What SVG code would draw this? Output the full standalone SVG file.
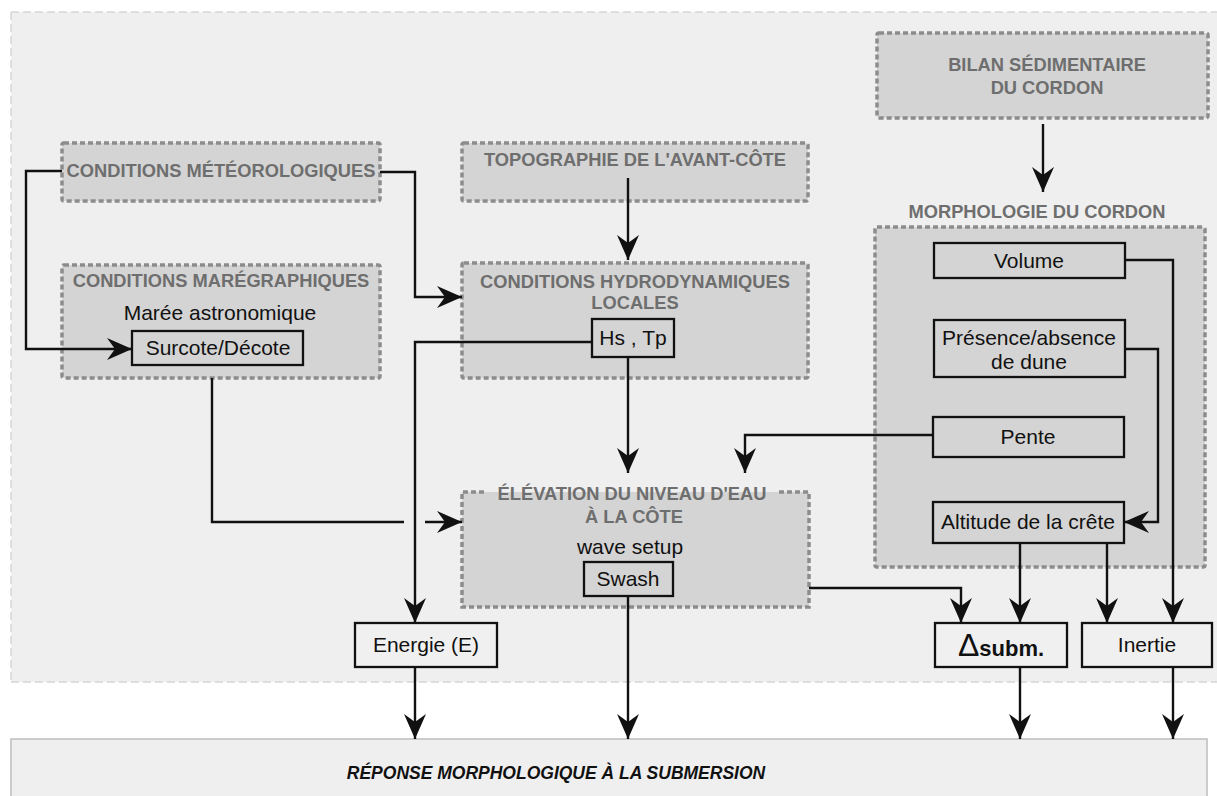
<svg xmlns="http://www.w3.org/2000/svg" width="1217" height="796" viewBox="0 0 1217 796">
<style>
.grp{fill:#d4d4d4;stroke:#8c8c8c;stroke-width:3.5;stroke-dasharray:5 3}
.brd{fill:none;stroke:#8c8c8c;stroke-width:3.5;stroke-dasharray:5 3}
.ttl{font-family:"Liberation Sans",Arial,sans-serif;font-weight:bold;font-size:18.3px;fill:#6e6e6e;text-anchor:middle}
.lbl{font-family:"Liberation Sans",Arial,sans-serif;font-size:21px;fill:#111;text-anchor:middle}
.ibox{fill:#d4d4d4;stroke:#111;stroke-width:2.3}
.obox{fill:#f0f0f0;stroke:#111;stroke-width:2.3}
.cn{fill:none;stroke:#111;stroke-width:2.4}
</style>
<defs>
<marker id="ah" markerWidth="26" markerHeight="22" refX="25" refY="11" orient="auto" markerUnits="userSpaceOnUse" viewBox="0 0 26 22">
<path d="M25,11 L0,0 L8,11 L0,22 Z" fill="#111"/>
</marker>
</defs>
<rect width="1217" height="796" fill="#ffffff"/>
<g id="background">
<rect x="11" y="12" width="1206" height="670" fill="#efefef"/>
<path d="M11,12 H1217 M11,12 V682 M11,682 H1217" fill="none" stroke="#d6d6d6" stroke-width="1.5" stroke-dasharray="8 4"/>
</g>

<g id="meteo">
<rect class="grp" x="62" y="143" width="318" height="58" rx="2"/>
<text class="ttl" x="221" y="177">CONDITIONS MÉTÉOROLOGIQUES</text>
</g>
<g id="maregraphiques">
<rect class="grp" x="62" y="265" width="318" height="113" rx="2"/>
<text class="ttl" x="221" y="287">CONDITIONS MARÉGRAPHIQUES</text>
<text class="lbl" x="220" y="320">Marée astronomique</text>
</g>
<g id="surcote">
<rect class="ibox" x="132" y="331" width="171" height="34"/>
<text class="lbl" x="218" y="355">Surcote/Décote</text>
</g>
<g id="topographie">
<rect class="grp" x="462" y="143" width="346" height="58" rx="2"/>
<text class="ttl" x="635" y="166">TOPOGRAPHIE DE L'AVANT-CÔTE</text>
</g>
<g id="hydrodynamiques">
<rect class="grp" x="462" y="263" width="346" height="115" rx="2"/>
<text class="ttl" x="635" y="288">CONDITIONS HYDRODYNAMIQUES</text>
<text class="ttl" x="635" y="309">LOCALES</text>
</g>
<g id="hstp">
<rect class="ibox" x="592" y="319" width="82" height="38"/>
<text class="lbl" x="633" y="345">Hs , Tp</text>
</g>
<g id="elevation">
<rect x="462" y="492" width="347" height="115" fill="#d4d4d4"/>
<path class="brd" d="M484,492 H462 V607 H809 V492 H779"/>
<text class="ttl" x="632" y="500">ÉLÉVATION DU NIVEAU D'EAU</text>
<text class="ttl" x="634" y="523">À LA CÔTE</text>
<text class="lbl" x="630" y="554">wave setup</text>
</g>
<g id="swash">
<rect class="ibox" x="584" y="562" width="89" height="34"/>
<text class="lbl" x="628" y="586">Swash</text>
</g>
<g id="bilan">
<rect class="grp" x="877" y="33" width="331" height="85" rx="2"/>
<text class="ttl" x="1047" y="71">BILAN SÉDIMENTAIRE</text>
<text class="ttl" x="1047" y="94">DU CORDON</text>
</g>
<g id="morphologie">
<text class="ttl" x="1037" y="218">MORPHOLOGIE DU CORDON</text>
<rect class="grp" x="875" y="227" width="330" height="340" rx="2"/>
</g>
<g id="volume">
<rect class="ibox" x="934" y="243" width="191" height="35"/>
<text class="lbl" x="1029" y="268">Volume</text>
</g>
<g id="presence">
<rect class="ibox" x="934" y="320" width="191" height="57"/>
<text class="lbl" x="1029" y="345">Présence/absence</text>
<text class="lbl" x="1029" y="369">de dune</text>
</g>
<g id="pente">
<rect class="ibox" x="933" y="417" width="191" height="40"/>
<text class="lbl" x="1028" y="444">Pente</text>
</g>
<g id="altitude">
<rect class="ibox" x="933" y="502" width="191" height="41"/>
<text class="lbl" x="1028" y="529">Altitude de la crête</text>
</g>
<g id="energie">
<rect class="obox" x="355" y="623" width="142" height="44"/>
<text class="lbl" x="426" y="652">Energie (E)</text>
</g>
<g id="delta">
<rect class="obox" x="935" y="623" width="132" height="44"/>
<text x="1001" y="656" text-anchor="middle" font-family="Liberation Sans,Arial,sans-serif" fill="#111"><tspan font-size="32">Δ</tspan><tspan font-size="22" font-weight="bold">subm.</tspan></text>
</g>
<g id="inertie">
<rect class="obox" x="1082" y="623" width="130" height="44"/>
<text class="lbl" x="1147" y="652">Inertie</text>
</g>
<g id="reponse">
<rect x="11" y="739" width="1196" height="62" fill="#efefef" stroke="#bdbdbd" stroke-width="1.5"/>
<text x="556" y="779" text-anchor="middle" font-family="Liberation Sans,Arial,sans-serif" font-weight="bold" font-style="italic" font-size="17.5" fill="#111">RÉPONSE MORPHOLOGIQUE À LA SUBMERSION</text>
</g>

<g id="connectors">
<path class="cn" d="M62,171 H26 V349 H132" marker-end="url(#ah)"/>
<path class="cn" d="M380,172 H415 V297 H462" marker-end="url(#ah)"/>
<path class="cn" d="M628,178 V260" marker-end="url(#ah)"/>
<path class="cn" d="M592,342 H415 V623" marker-end="url(#ah)"/>
<path class="cn" d="M628,357 V473" marker-end="url(#ah)"/>
<path class="cn" d="M933,435 H745 V473" marker-end="url(#ah)"/>
<path class="cn" d="M212,378 V522 H404"/>
<path class="cn" d="M425,522 H462" marker-end="url(#ah)"/>
<path class="cn" d="M809,588 H961 V623" marker-end="url(#ah)"/>
<path class="cn" d="M628,596 V739" marker-end="url(#ah)"/>
<path class="cn" d="M415,667 V739" marker-end="url(#ah)"/>
<path class="cn" d="M1020,667 V739" marker-end="url(#ah)"/>
<path class="cn" d="M1173,667 V739" marker-end="url(#ah)"/>
<path class="cn" d="M1020,543 V623" marker-end="url(#ah)"/>
<path class="cn" d="M1107,543 V623" marker-end="url(#ah)"/>
<path class="cn" d="M1125,260 H1173 V623" marker-end="url(#ah)"/>
<path class="cn" d="M1125,349 H1158 V522 H1124" marker-end="url(#ah)"/>
<path class="cn" d="M1043,124 V192" marker-end="url(#ah)"/>
</g>
</svg>
